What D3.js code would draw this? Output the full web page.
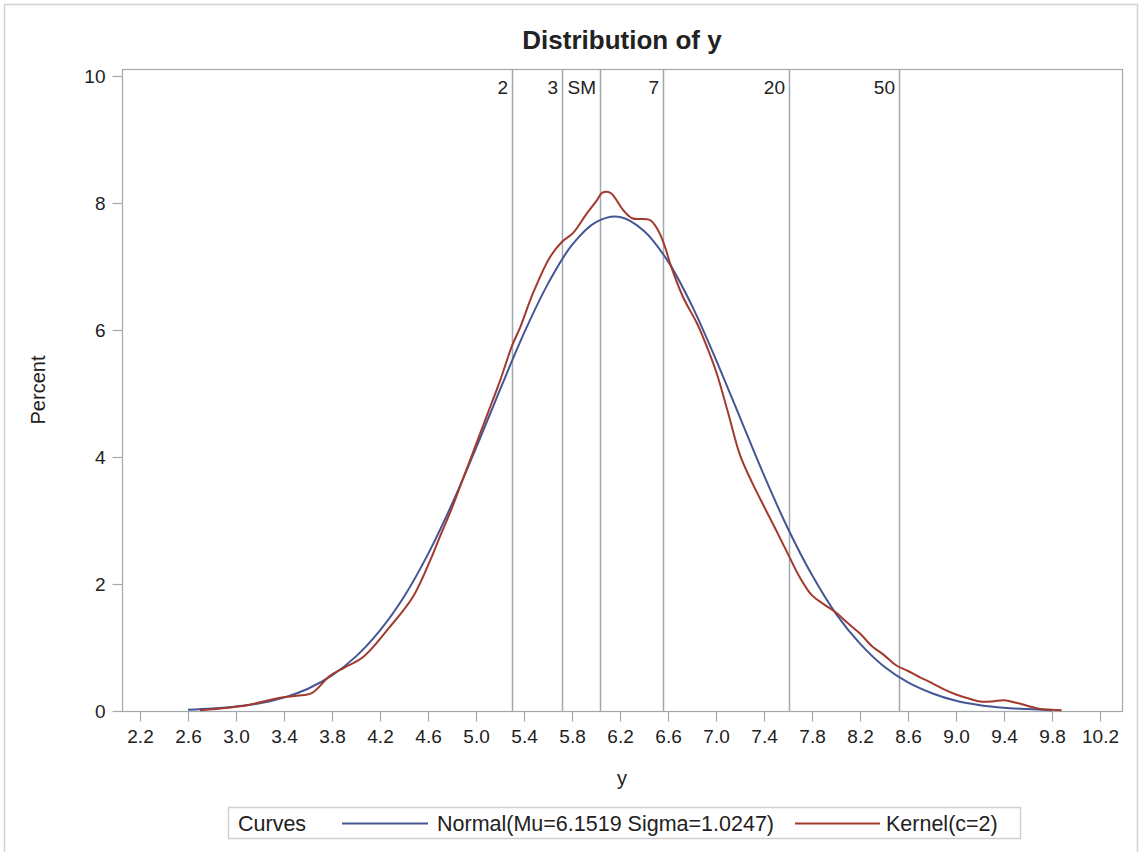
<!DOCTYPE html>
<html>
<head>
<meta charset="utf-8">
<script src="https://cdn.jsdelivr.net/npm/d3@7"></script>
<style>
  body { margin: 0; background: #fff; }
  text { font-family: "Liberation Sans", Arial, sans-serif; fill: #222; }
</style>
</head>
<body>
<div id="chart"></div>
<script>
// tick labels
var xTicks = [2.2, 2.6, 3.0, 3.4, 3.8, 4.2, 4.6, 5.0, 5.4, 5.8, 6.2, 6.6, 7.0, 7.4, 7.8, 8.2, 8.6, 9.0, 9.4, 9.8, 10.2];
var yTicks = [0, 2, 4, 6, 8, 10];

// reference lines (return-level style markers)
var refValues = [5.30, 5.717, 6.033, 6.558, 7.608, 8.525];
var refLabels = ["2", "3", "SM", "7", "20", "50"];

// Normal(Mu=6.1519 Sigma=1.0247)
var normalX   = [2.6, 2.8, 3.0, 3.2, 3.4, 3.6, 3.8, 4.0, 4.2, 4.4, 4.6, 4.8, 5.0, 5.2, 5.4, 5.6, 5.8, 6.0, 6.2, 6.4, 6.6, 6.8, 7.0, 7.2, 7.4, 7.6, 7.8, 8.0, 8.2, 8.4, 8.6, 8.8, 9.0, 9.2, 9.4, 9.6, 9.8];
var normalPct = [0.02, 0.04, 0.07, 0.12, 0.21, 0.35, 0.56, 0.86, 1.27, 1.80, 2.47, 3.26, 4.14, 5.06, 5.95, 6.73, 7.34, 7.70, 7.78, 7.56, 7.08, 6.38, 5.53, 4.62, 3.71, 2.87, 2.14, 1.53, 1.06, 0.70, 0.45, 0.28, 0.16, 0.09, 0.05, 0.03, 0.01];

// Kernel(c=2)
var kernelX   = [2.7, 2.87, 3.09, 3.37, 3.51, 3.63, 3.78, 3.9, 4.06, 4.28, 4.475, 4.62, 4.7, 4.8, 4.9, 5.0, 5.1, 5.2, 5.3, 5.37, 5.475, 5.617, 5.717, 5.81, 5.925, 6.01, 6.05, 6.12, 6.225, 6.3, 6.45, 6.517, 6.575, 6.617, 6.725, 6.84, 6.9, 7.0, 7.1, 7.2, 7.3, 7.4, 7.5, 7.6, 7.7, 7.8, 7.9, 8.0, 8.1, 8.2, 8.3, 8.4, 8.5, 8.6, 8.7, 8.8, 8.9, 9.0, 9.1, 9.2, 9.3, 9.4, 9.5, 9.6, 9.7, 9.8, 9.88];
var kernelPct = [0.01, 0.04, 0.09, 0.21, 0.24, 0.28, 0.55, 0.68, 0.85, 1.32, 1.80, 2.38, 2.75, 3.20, 3.70, 4.20, 4.70, 5.20, 5.75, 6.05, 6.58, 7.15, 7.39, 7.53, 7.84, 8.05, 8.16, 8.16, 7.89, 7.76, 7.73, 7.57, 7.31, 7.05, 6.52, 6.11, 5.85, 5.35, 4.70, 4.03, 3.60, 3.22, 2.85, 2.47, 2.10, 1.82, 1.68, 1.55, 1.38, 1.22, 1.02, 0.88, 0.72, 0.63, 0.53, 0.44, 0.34, 0.26, 0.20, 0.15, 0.15, 0.17, 0.13, 0.08, 0.03, 0.02, 0.01];

var drawChart = function() {

    var width = 1141, height = 852;
    var pLeft = 122, pRight = 1122, pTop = 69, pBottom = 711;

    var svg = d3.select("#chart").append("svg")
        .attr("width", width)
        .attr("height", height);

    // outer border
    svg.append("rect")
        .attr("x", 4.5).attr("y", 4.5)
        .attr("width", 1133).attr("height", 870)
        .attr("fill", "none").attr("stroke", "#d3d3d3").attr("stroke-width", 1.5);

    var x = d3.scaleLinear().domain([2.05, 10.383]).range([pLeft, pRight]);
    var y = d3.scaleLinear().domain([0, 10.11]).range([pBottom, pTop]);

    var gridColor = "#a4a7ab";

    // title
    svg.append("text")
        .attr("x", (pLeft + pRight) / 2).attr("y", 49)
        .attr("text-anchor", "middle")
        .style("font-size", "26px").style("font-weight", "bold")
        .text("Distribution of y");

    // frame
    svg.append("rect")
        .attr("x", pLeft + 0.5).attr("y", pTop + 0.5)
        .attr("width", pRight - pLeft).attr("height", pBottom - pTop)
        .attr("fill", "none").attr("stroke", gridColor).attr("stroke-width", 1.2);

    // axes
    var xAxis = svg.append("g")
        .attr("transform", "translate(0," + (pBottom + 0.5) + ")")
        .call(d3.axisBottom(x).tickValues(xTicks).tickFormat(d3.format(".1f")).tickSize(10).tickPadding(8));
    var yAxis = svg.append("g")
        .attr("transform", "translate(" + (pLeft + 0.5) + ",0)")
        .call(d3.axisLeft(y).tickValues(yTicks).tickSize(10).tickPadding(7));

    [xAxis, yAxis].forEach(function(g) {
        g.select(".domain").remove();
        g.selectAll("line").attr("stroke", gridColor).attr("stroke-width", 1.2);
        g.selectAll("text").style("font-size", "19px").attr("fill", "#222");
    });

    // axis labels
    svg.append("text")
        .attr("x", (pLeft + pRight) / 2).attr("y", 785)
        .attr("text-anchor", "middle")
        .style("font-size", "20px")
        .text("y");
    svg.append("text")
        .attr("transform", "translate(45," + ((pTop + pBottom) / 2) + ") rotate(-90)")
        .attr("text-anchor", "middle")
        .style("font-size", "20px")
        .text("Percent");

    // reference lines
    var refs = svg.append("g");
    refs.selectAll("line")
        .data(refValues)
        .enter().append("line")
        .attr("x1", function(d) { return Math.round(x(d)) + 0.5; })
        .attr("x2", function(d) { return Math.round(x(d)) + 0.5; })
        .attr("y1", pTop).attr("y2", pBottom)
        .attr("stroke", gridColor).attr("stroke-width", 1.5);
    refs.selectAll("text")
        .data(refValues)
        .enter().append("text")
        .attr("x", function(d) { return Math.round(x(d)) - 4; })
        .attr("y", 94)
        .attr("text-anchor", "end")
        .style("font-size", "19px")
        .text(function(d, i) { return refLabels[i]; });

    // curves
    var line = d3.line()
        .x(function(d) { return x(d[0]); })
        .y(function(d) { return y(d[1]); })
        .curve(d3.curveCatmullRom);

    svg.append("path")
        .datum(d3.zip(normalX, normalPct))
        .attr("d", line)
        .attr("fill", "none").attr("stroke", "#445694").attr("stroke-width", 2);

    svg.append("path")
        .datum(d3.zip(kernelX, kernelPct))
        .attr("d", line)
        .attr("fill", "none").attr("stroke", "#a23a2e").attr("stroke-width", 2);

    // legend
    var legend = svg.append("g").style("font-size", "21.5px");
    legend.append("rect")
        .attr("x", 228.5).attr("y", 807.5)
        .attr("width", 792).attr("height", 31)
        .attr("fill", "none").attr("stroke", "#d0d0d0").attr("stroke-width", 1.5);
    legend.append("text").attr("x", 238).attr("y", 831).text("Curves");
    legend.append("line").attr("x1", 342).attr("x2", 428).attr("y1", 823.5).attr("y2", 823.5)
        .attr("stroke", "#445694").attr("stroke-width", 2);
    legend.append("text").attr("x", 437).attr("y", 831).text("Normal(Mu=6.1519 Sigma=1.0247)");
    legend.append("line").attr("x1", 795).attr("x2", 880).attr("y1", 823.5).attr("y2", 823.5)
        .attr("stroke", "#a23a2e").attr("stroke-width", 2);
    legend.append("text").attr("x", 886).attr("y", 831).text("Kernel(c=2)");
};

drawChart();
</script>
</body>
</html>
